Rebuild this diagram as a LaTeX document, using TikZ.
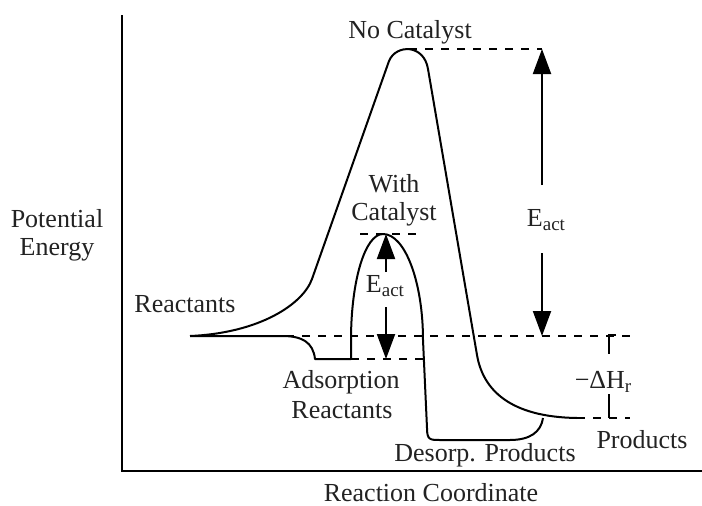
\documentclass[tikz,border=0pt]{standalone}
\usepackage{fontspec}
\setmainfont{Liberation Serif}
\usetikzlibrary{arrows.meta}
\definecolor{ink}{HTML}{222222}
% lowered, slightly reduced subscript text
\newcommand{\lowsub}[1]{\raisebox{-4pt}{\fontsize{19}{20}\selectfont #1}}
\tikzset{
  curve/.style={line width=2pt, line join=round},
  axis/.style={line width=2.2pt},
  level/.style={line width=2pt, dash pattern=on 8pt off 8pt},
  bigarrow/.style={line width=2pt, -{Triangle[length=25pt,width=18pt]}},
  label/.style={text=ink, inner sep=0pt, anchor=base, font=\fontsize{26}{28}\selectfont},
}
\begin{document}
\begin{tikzpicture}[x=1pt, y=-1pt]
\useasboundingbox (0,0) rectangle (702,506);

% axes
\coordinate (ytop) at (122,15);
\coordinate (origin) at (122,471);
\coordinate (xend) at (702,471);
\draw[axis] (ytop) -- (origin) -- (xend);

% key points of the energy profile
\coordinate (react) at (190,336);
\coordinate (ncTop) at (409,49);
\coordinate (cTop) at (383,234);
\coordinate (ads) at (351,359);
\coordinate (prod) at (577,418);

% energy levels
\draw[level] (react) -- (635,336);
\draw[level] (ncTop) -- (542,49);
\draw[level] (360,234) -- (418,234);
\draw[level] (ads) -- (425,359);
\draw[level] (prod) -- (630,418);

% uncatalysed path
\draw[curve] (react) .. controls (260,333) and (303,304) .. (312,279)
  -- (389,61) .. controls (396,44) and (424,44) .. (428,69)
  -- (477,355) .. controls (483,390) and (510,417) .. (prod);

% catalysed path
\draw[curve] (react) -- (282,336) .. controls (302,336) and (313,342) .. (315,359)
  -- (ads) -- (351,340) .. controls (351,281) and (365,234) .. (cTop)
  .. controls (405,234) and (423,282) .. (423,340)
  -- (427,428) .. controls (427,440) and (430,440) .. (440,440)
  -- (510,440) .. controls (530,440) and (541,432) .. (543,418);

% activation energy without catalyst
\coordinate (eaUp) at (542,185);
\coordinate (eaDown) at (542,253);
\coordinate (eaTop) at (542,49);
\coordinate (eaBot) at (542,336);
\draw[bigarrow] (eaUp) -- (eaTop);
\draw[bigarrow] (eaDown) -- (eaBot);

% activation energy with catalyst
\coordinate (ecUp) at (386,272);
\coordinate (ecDown) at (386,307);
\coordinate (ecTop) at (386,234);
\coordinate (ecBot) at (386,359);
\draw[bigarrow] (ecUp) -- (ecTop);
\draw[bigarrow] (ecDown) -- (ecBot);

% reaction enthalpy bracket
\coordinate (dhA) at (616,335);
\coordinate (dhB) at (609,335);
\coordinate (dhC) at (609,354);
\coordinate (dhD) at (609,394);
\coordinate (dhE) at (609,418);
\draw[line width=2pt] (dhA) -- (dhB) -- (dhC);
\draw[line width=2pt] (dhD) -- (dhE);

% labels
\node[label] (lpot) at (57,227) {Potential};
\node[label] (lene) at (57,255) {Energy};
\node[label] (lrc) at (431,501) {Reaction Coordinate};
\node[label] (lnc) at (410,38) {No Catalyst};
\node[label] (lwith) at (394,192) {With};
\node[label] (lcat) at (394,220) {Catalyst};
\node[label] (lea) at (546,226) {E\lowsub{act}};
\node[label] (lec) at (385,292) {E\lowsub{act}};
\node[label] (lre) at (185,312) {Reactants};
\node[label] (lads) at (341,388) {Adsorption};
\node[label] (lads2) at (342,418) {Reactants};
\node[label] (ldes) at (485,461) {Desorp. Products};
\node[label] (lpro) at (642,448) {Products};
\node[label] (ldh) at (603,388) {−ΔH\lowsub{r}};
\end{tikzpicture}
\end{document}
